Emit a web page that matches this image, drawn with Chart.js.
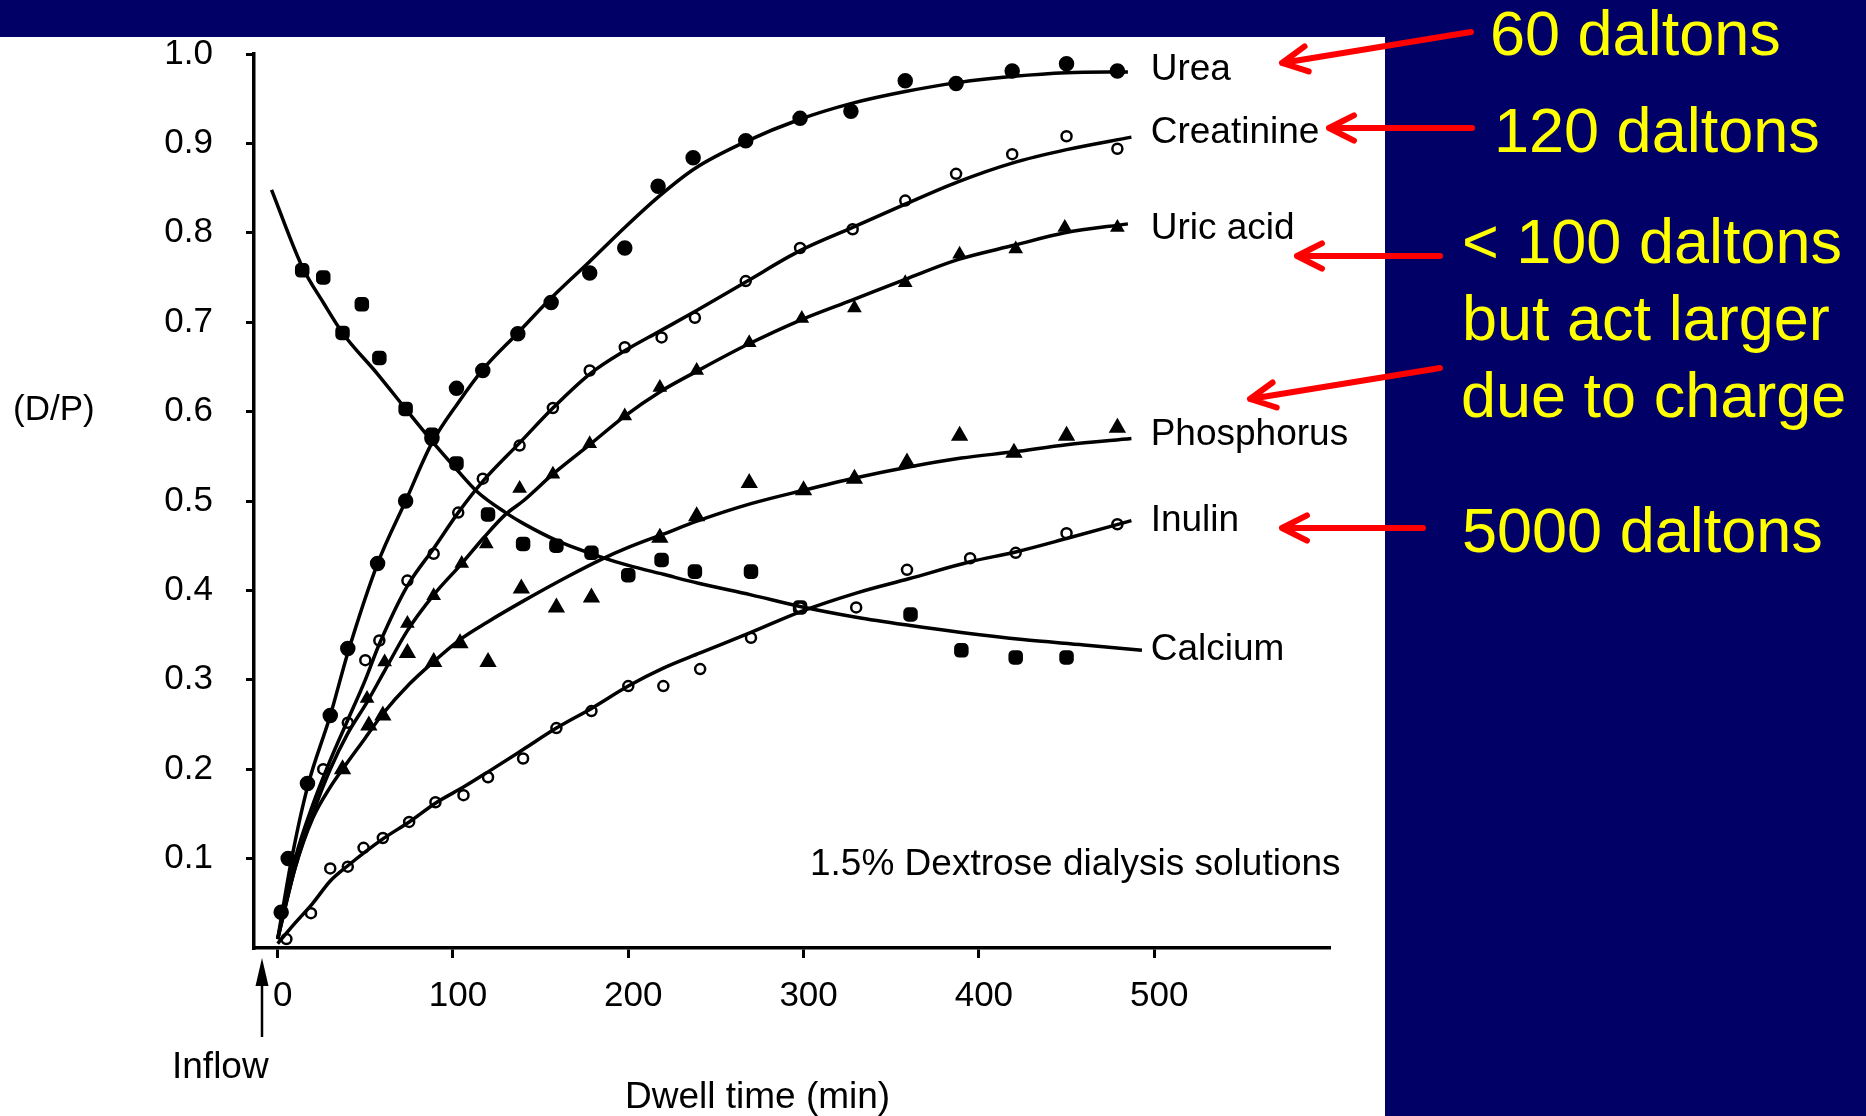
<!DOCTYPE html>
<html>
<head>
<meta charset="utf-8">
<title>D/P ratio vs dwell time</title>
<script src="https://cdn.jsdelivr.net/npm/chart.js@4.4.1/dist/chart.umd.min.js"></script>
<style>
  html, body { margin: 0; padding: 0; background: #000066; }
  #wrap { width: 1866px; height: 1116px; }
  canvas { display: block; }
</style>
</head>
<body>
<div id="wrap"><canvas id="dpChart" width="1866" height="1116"></canvas></div>
<script>
// Data: dialysate/plasma ratio against dwell time (min)
const xTicks = [0, 100, 200, 300, 400, 500];
const yTicks = [0.1, 0.2, 0.3, 0.4, 0.5, 0.6, 0.7, 0.8, 0.9, 1.0];
const solutes = ['Urea', 'Creatinine', 'Uric acid', 'Phosphorus', 'Inulin', 'Calcium'];

// measured samples
const ureaTime = [2, 6, 17, 30, 40, 57, 73, 88, 102, 117, 137, 156, 178, 198, 217, 237, 267, 298, 327, 358, 387, 419, 450, 479];
const ureaDP = [0.04, 0.10, 0.184, 0.26, 0.335, 0.43, 0.50, 0.57, 0.626, 0.646, 0.687, 0.722, 0.755, 0.783, 0.852, 0.884, 0.903, 0.928, 0.936, 0.970, 0.967, 0.981, 0.989, 0.981];

const creatTime = [26, 40, 50, 58, 74, 89, 103, 117, 138, 157, 178, 198, 219, 238, 267, 298, 328, 358, 387, 419, 450, 479];
const creatDP = [0.20, 0.252, 0.322, 0.344, 0.411, 0.441, 0.487, 0.525, 0.562, 0.604, 0.646, 0.672, 0.683, 0.705, 0.746, 0.783, 0.804, 0.836, 0.866, 0.888, 0.908, 0.894];

const uricTime = [51, 61, 74, 89, 105, 119, 138, 157, 178, 198, 218, 239, 269, 299, 329, 358, 389, 421, 449, 479];
const uricDP = [0.279, 0.32, 0.363, 0.394, 0.43, 0.452, 0.514, 0.53, 0.564, 0.595, 0.627, 0.646, 0.677, 0.704, 0.716, 0.744, 0.776, 0.782, 0.806, 0.806];

const phosTime = [37, 52, 60, 74, 89, 104, 120, 139, 159, 179, 218, 239, 269, 300, 329, 359, 389, 420, 450, 479];
const phosDP = [0.20, 0.249, 0.26, 0.33, 0.32, 0.341, 0.32, 0.402, 0.381, 0.392, 0.459, 0.483, 0.52, 0.512, 0.525, 0.543, 0.573, 0.554, 0.573, 0.582];

const inulinTime = [5, 19, 30, 40, 49, 60, 75, 90, 106, 120, 140, 159, 179, 200, 220, 241, 270, 298, 330, 359, 395, 421, 450, 479];
const inulinDP = [0.01, 0.039, 0.089, 0.091, 0.112, 0.123, 0.141, 0.163, 0.171, 0.191, 0.212, 0.246, 0.265, 0.293, 0.293, 0.312, 0.347, 0.381, 0.381, 0.423, 0.436, 0.442, 0.464, 0.474];

const calcTime = [14, 26, 37, 48, 58, 73, 88, 102, 120, 140, 159, 179, 200, 219, 238, 270, 298, 361, 390, 421, 450];
const calcDP = [0.758, 0.75, 0.688, 0.72, 0.66, 0.603, 0.574, 0.542, 0.485, 0.452, 0.450, 0.442, 0.417, 0.434, 0.421, 0.421, 0.381, 0.373, 0.333, 0.325, 0.325];

// hand-fitted curves through the samples
const ureaFitTime = [0, 8, 17, 30, 40, 57, 73, 88, 103, 117, 137, 156, 178, 198, 217, 238, 267, 298, 328, 358, 388, 420, 450, 485];
const ureaFitDP = [0.01, 0.10, 0.18, 0.26, 0.33, 0.43, 0.50, 0.565, 0.61, 0.647, 0.688, 0.727, 0.768, 0.806, 0.84, 0.872, 0.902, 0.927, 0.945, 0.958, 0.968, 0.975, 0.979, 0.98];

const creatFitTime = [0, 10, 20, 30, 40, 50, 58, 74, 89, 103, 117, 138, 157, 178, 198, 218, 238, 267, 298, 328, 358, 388, 419, 450, 487];
const creatFitDP = [0.01, 0.10, 0.16, 0.21, 0.255, 0.30, 0.34, 0.405, 0.447, 0.487, 0.522, 0.565, 0.604, 0.642, 0.668, 0.69, 0.712, 0.745, 0.78, 0.806, 0.832, 0.857, 0.878, 0.893, 0.907];

const uricFitTime = [0, 10, 20, 30, 40, 51, 61, 74, 89, 105, 118, 130, 140, 157, 178, 198, 218, 239, 268, 299, 328, 358, 388, 420, 449, 485];
const uricFitDP = [0.01, 0.09, 0.15, 0.20, 0.24, 0.275, 0.31, 0.355, 0.395, 0.43, 0.46, 0.485, 0.50, 0.53, 0.563, 0.595, 0.622, 0.645, 0.675, 0.703, 0.725, 0.748, 0.77, 0.786, 0.80, 0.81];

const phosFitTime = [0, 10, 20, 30, 37, 50, 60, 75, 90, 104, 120, 140, 165, 185, 200, 220, 240, 270, 300, 330, 360, 390, 420, 450, 487];
const phosFitDP = [0.01, 0.09, 0.145, 0.18, 0.20, 0.235, 0.262, 0.295, 0.322, 0.345, 0.365, 0.388, 0.415, 0.435, 0.448, 0.463, 0.478, 0.497, 0.512, 0.526, 0.538, 0.548, 0.555, 0.563, 0.57];

const inulinFitTime = [0, 10, 20, 30, 40, 60, 75, 90, 106, 120, 140, 159, 179, 200, 220, 241, 270, 298, 330, 360, 395, 421, 450, 487];
const inulinFitDP = [0.005, 0.028, 0.05, 0.075, 0.092, 0.122, 0.141, 0.162, 0.18, 0.197, 0.222, 0.246, 0.268, 0.293, 0.313, 0.33, 0.353, 0.376, 0.397, 0.413, 0.432, 0.443, 0.458, 0.478];

const calcFitTime = [-3.5, 14, 26, 37, 57, 73, 88, 100, 114, 130, 140, 159, 185, 200, 220, 240, 270, 298, 330, 360, 390, 425, 460, 493];
const calcFitDP = [0.848, 0.762, 0.722, 0.688, 0.642, 0.603, 0.567, 0.54, 0.51, 0.487, 0.475, 0.456, 0.437, 0.428, 0.418, 0.408, 0.395, 0.382, 0.37, 0.361, 0.353, 0.345, 0.339, 0.333];

// where the solute names sit along the time axis
const labelTime = 498;

// callout text on the right
const callouts = ['60 daltons', '120 daltons', '< 100 daltons', 'but act larger', 'due to charge', '5000 daltons'];

const FONT = '"Liberation Sans", Arial, Helvetica, sans-serif';
const NAVY = '#000066';

function pts(xs, ys) {
    return xs.map((x, i) => ({ x: x, y: ys[i] }));
}

const samples = [
    { t: ureaTime, dp: ureaDP, style: 'circle', r: 6.5, fill: '#000' },
    { t: creatTime, dp: creatDP, style: 'circle', r: 5, fill: '#fff' },
    { t: uricTime, dp: uricDP, style: 'triangle', r: 6, fill: '#000' },
    { t: phosTime, dp: phosDP, style: 'triangle', r: 7.5, fill: '#000' },
    { t: inulinTime, dp: inulinDP, style: 'circle', r: 5, fill: '#fff' },
    { t: calcTime, dp: calcDP, style: 'rectRounded', r: 7, fill: '#000' }
];

const fits = [
    { t: ureaFitTime, dp: ureaFitDP },
    { t: creatFitTime, dp: creatFitDP },
    { t: uricFitTime, dp: uricFitDP },
    { t: phosFitTime, dp: phosFitDP },
    { t: inulinFitTime, dp: inulinFitDP },
    { t: calcFitTime, dp: calcFitDP }
];

// baseline nudge (px) of each name below its curve end
const nameNudge = [8, 6, 15, 7, 10, 10];

const datasets = [];
fits.forEach((f, i) => {
    datasets.push({
        label: solutes[i] + ' fit',
        data: pts(f.t, f.dp),
        showLine: true,
        borderColor: '#000',
        borderWidth: 3.5,
        pointRadius: 0,
        cubicInterpolationMode: 'monotone',
        fill: false
    });
});
samples.forEach((s, i) => {
    datasets.push({
        label: solutes[i],
        data: pts(s.t, s.dp),
        showLine: false,
        pointStyle: s.style,
        pointRadius: s.r,
        pointBackgroundColor: s.fill,
        pointBorderColor: '#000',
        pointBorderWidth: 2.5
    });
});

function arrow(ctx, x1, y1, x2, y2) {
    // shaft from (x1,y1) to the tip at (x2,y2), open chevron head
    const a = Math.atan2(y1 - y2, x1 - x2);
    const len = 28, spread = 0.47;
    ctx.beginPath();
    ctx.moveTo(x1, y1);
    ctx.lineTo(x2, y2);
    ctx.moveTo(x2 + len * Math.cos(a - spread), y2 + len * Math.sin(a - spread));
    ctx.lineTo(x2, y2);
    ctx.lineTo(x2 + len * Math.cos(a + spread), y2 + len * Math.sin(a + spread));
    ctx.stroke();
}

const decor = {
    id: 'decor',
    beforeDraw(chart) {
        const { ctx, width, height } = chart;
        ctx.save();
        ctx.fillStyle = NAVY;
        ctx.fillRect(0, 0, width, height);
        ctx.fillStyle = '#fff';
        ctx.fillRect(0, 37, 1385, height - 37);
        ctx.restore();
    },
    afterDraw(chart) {
        const { ctx } = chart;
        const xs = chart.scales.x, ys = chart.scales.y;
        ctx.save();

        // solute names at the end of each curve
        ctx.fillStyle = '#000';
        ctx.textBaseline = 'alphabetic';
        ctx.textAlign = 'left';
        ctx.font = '37px ' + FONT;
        fits.forEach((f, i) => {
            const end = f.dp[f.dp.length - 1];
            ctx.fillText(solutes[i], xs.getPixelForValue(labelTime), ys.getPixelForValue(end) + nameNudge[i]);
        });

        // axis captions and note
        ctx.font = '35px ' + FONT;
        ctx.fillText('(D/P)', 13, 420);
        ctx.font = '37px ' + FONT;
        ctx.fillText('Inflow', 172, 1078);
        ctx.fillText('Dwell time (min)', 625, 1108);
        ctx.fillText('1.5% Dextrose dialysis solutions', 810, 875);

        // inflow marker under time zero
        ctx.strokeStyle = '#000';
        ctx.lineWidth = 2.5;
        ctx.beginPath();
        ctx.moveTo(262, 1037);
        ctx.lineTo(262, 980);
        ctx.stroke();
        ctx.beginPath();
        ctx.moveTo(262, 958);
        ctx.lineTo(255.5, 986);
        ctx.lineTo(268.5, 986);
        ctx.closePath();
        ctx.fill();

        // red pointers from the callouts
        ctx.strokeStyle = '#ff0000';
        ctx.lineWidth = 6;
        ctx.lineCap = 'round';
        ctx.lineJoin = 'round';
        arrow(ctx, 1471, 32, 1282, 63);
        arrow(ctx, 1472, 128, 1329, 128);
        arrow(ctx, 1440, 256, 1297, 256);
        arrow(ctx, 1440, 368, 1250, 399);
        arrow(ctx, 1423, 528, 1282, 528);

        // callout text
        ctx.fillStyle = '#ffff00';
        ctx.font = '63px ' + FONT;
        const spots = [[1490, 55], [1494, 152], [1462, 263], [1462, 340], [1461, 417], [1462, 552]];
        callouts.forEach((txt, i) => ctx.fillText(txt, spots[i][0], spots[i][1]));

        ctx.restore();
    }
};

const tickFont = { family: FONT, size: 35 };

new Chart(document.getElementById('dpChart'), {
    type: 'scatter',
    data: { datasets: datasets },
    options: {
        responsive: false,
        animation: false,
        layout: { padding: { left: 0, top: 53, right: 536.5, bottom: 0 } },
        plugins: {
            legend: { display: false },
            tooltip: { enabled: false }
        },
        scales: {
            x: {
                type: 'linear',
                min: -13.5,
                max: 600,
                afterBuildTicks: s => { s.ticks = xTicks.map(v => ({ value: v })); },
                afterFit: s => { s.height = 168; },
                border: { display: true, color: '#000', width: 3.5 },
                grid: { drawOnChartArea: false, drawTicks: true, tickLength: 10, color: '#000', lineWidth: 3 },
                ticks: { color: '#000', font: tickFont, padding: 17, maxRotation: 0, autoSkip: false, labelOffset: 5 }
            },
            y: {
                type: 'linear',
                min: 0,
                max: 1,
                afterBuildTicks: s => { s.ticks = yTicks.map(v => ({ value: v })); },
                afterFit: s => { s.width = 254; },
                border: { display: true, color: '#000', width: 3.5 },
                grid: { drawOnChartArea: false, drawTicks: true, tickLength: 8, color: '#000', lineWidth: 3 },
                ticks: { color: '#000', font: tickFont, padding: 33, autoSkip: false, callback: v => v.toFixed(1) }
            }
        }
    },
    plugins: [decor]
});
</script>
</body>
</html>
